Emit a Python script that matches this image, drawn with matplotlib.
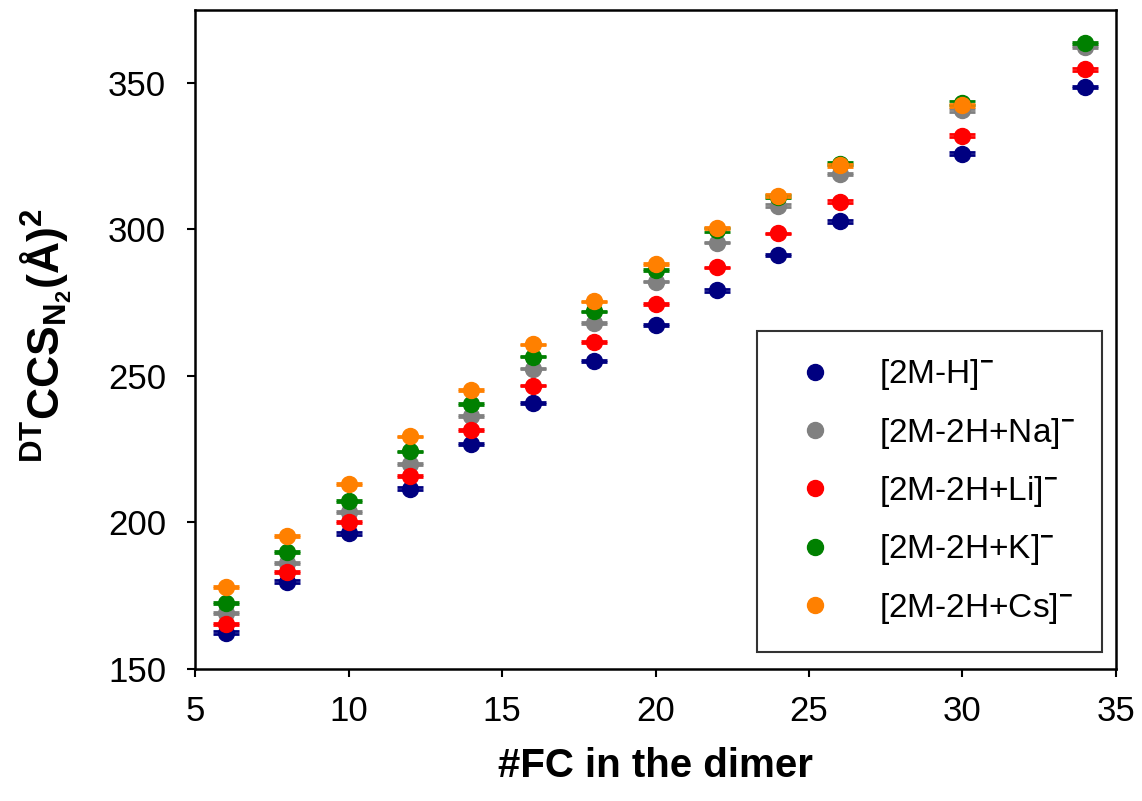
import matplotlib
matplotlib.use('Agg')
import matplotlib.pyplot as plt
import numpy as np

plt.rcParams['font.family'] = ['Liberation Sans', 'DejaVu Sans']
plt.rcParams['mathtext.fontset'] = 'custom'
plt.rcParams['mathtext.rm'] = 'Liberation Sans'
plt.rcParams['mathtext.bf'] = 'Liberation Sans:bold'

# number of fluorocarbons in the dimer
fc = [6, 8, 10, 12, 14, 16, 18, 20, 22, 24, 26, 30, 34]

# DT CCS(N2) values for each adduct
ccs_h = [162.4, 179.8, 196.3, 211.5, 226.7, 240.8, 255.0, 267.3, 279.2, 291.2, 302.7, 325.8, 348.6]
ccs_na = [169.0, 186.0, 203.6, 220.0, 236.2, 252.5, 268.0, 282.2, 295.5, 308.0, 318.9, 340.6, 362.3]
ccs_li = [165.3, 183.0, 200.1, 215.9, 231.6, 246.7, 261.5, 274.5, 287.0, 298.6, 309.5, 332.0, 354.7]
ccs_k = [172.4, 189.9, 207.3, 224.2, 240.5, 256.6, 272.0, 286.2, 299.8, 311.2, 322.4, 343.1, 363.6]
ccs_cs = [177.9, 195.4, 213.0, 229.3, 245.1, 260.7, 275.4, 288.2, 300.4, 311.5, 321.8, 342.3, np.nan]

# standard deviations
err_h = [0.6, 0.5, 0.5, 0.4, 0.3, 0.3, 0.3, 0.3, 0.5, 0.3, 0.4, 0.5, 0.3]
err_na = [0.3, 0.3, 0.3, 0.3, 0.3, 0.3, 0.3, 0.3, 0.3, 0.5, 0.5, 0.5, 0.4]
err_li = [0.3, 0.3, 0.3, 0.3, 0.3, 0.3, 0.3, 0.3, 0.3, 0.3, 0.4, 0.5, 0.5]
err_k = [0.3, 0.3, 0.3, 0.3, 0.3, 0.3, 0.3, 0.3, 0.6, 0.5, 0.5, 0.6, 0.4]
err_cs = [0.3, 0.3, 0.3, 0.3, 0.3, 0.3, 0.3, 0.3, 0.4, 0.5, 0.5, 0.5, np.nan]

labels = [r'[2M-H]$^{\mathbf{-}}$', r'[2M-2H+Na]$^{\mathbf{-}}$', r'[2M-2H+Li]$^{\mathbf{-}}$',
          r'[2M-2H+K]$^{\mathbf{-}}$', r'[2M-2H+Cs]$^{\mathbf{-}}$']
colors = ['#000080', '#808080', '#ff0000', '#008000', '#ff8000']

fig = plt.figure(figsize=(11.42, 8.01), dpi=100)
ax = fig.add_axes([0.171, 0.165, 0.806, 0.823])

handles = []
for y, e, c, lab in zip([ccs_h, ccs_na, ccs_li, ccs_k, ccs_cs],
                        [err_h, err_na, err_li, err_k, err_cs], colors, labels):
    cont = ax.errorbar(fc, y, yerr=e, fmt='o', color=c, ms=11.5, mec=c,
                       ecolor=c, elinewidth=1.5, capsize=9.5, capthick=2, label=lab)
    handles.append(cont[0])

ax.set_xlim(5, 35)
ax.set_ylim(150, 375)
ax.set_xticks([5, 10, 15, 20, 25, 30, 35])
ax.set_yticks([150, 200, 250, 300, 350])
ax.tick_params(direction='out', length=6, width=1.5, labelsize=25)
ax.tick_params(axis='x', pad=13)
ax.tick_params(axis='y', pad=15)
for s in ax.spines.values():
    s.set_linewidth(1.8)

ax.set_xlabel('#FC in the dimer', fontsize=29, fontweight='bold')
ax.xaxis.set_label_coords(0.5, -0.118)
ax.set_ylabel(r'$^{\mathbf{DT}}\mathbf{CCS}_{\mathbf{N_2}}\mathbf{(\AA)^2}$', fontsize=32)
ax.yaxis.set_label_coords(-0.132, 0.505)

leg = ax.legend(handles, labels, loc='lower right', bbox_to_anchor=(0.985, 0.025),
                fontsize=24, frameon=True, fancybox=False, edgecolor='black',
                borderpad=0.8, labelspacing=0.7, handletextpad=0.98, handlelength=1.9,
                borderaxespad=0)
leg.get_frame().set_linewidth(1.5)

fig.savefig('out.png', dpi=100)
